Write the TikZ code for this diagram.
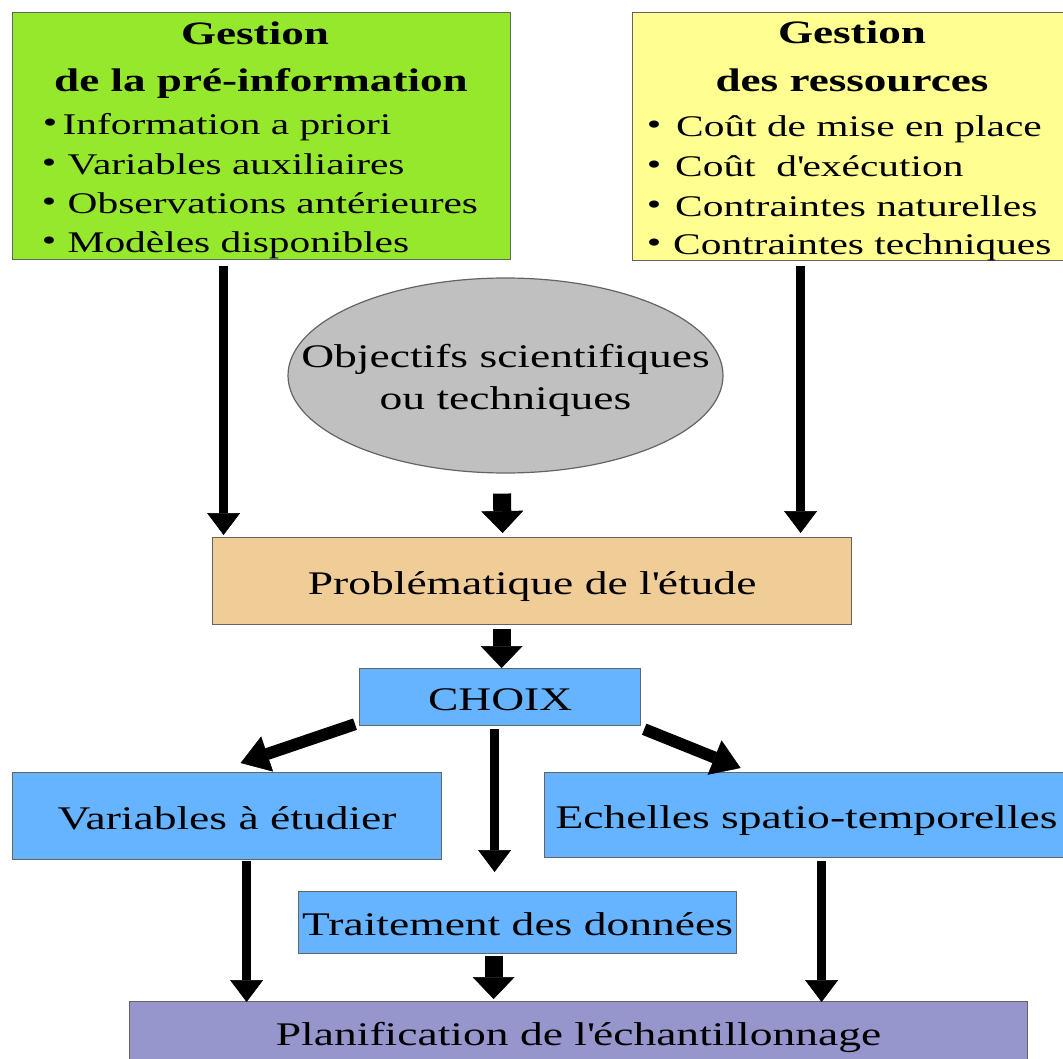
\documentclass[tikz,border=0pt]{standalone}
\usepackage{fontspec}
\setmainfont{Liberation Serif}[FakeStretch=1.38]
\usetikzlibrary{arrows.meta,shapes.geometric}
\definecolor{cGreen}{RGB}{150,232,45}
\definecolor{cYellow}{RGB}{255,255,145}
\definecolor{cGray}{RGB}{192,192,192}
\definecolor{cTan}{RGB}{240,204,150}
\definecolor{cBlue}{RGB}{102,180,255}
\definecolor{cPurple}{RGB}{150,150,205}
\definecolor{cBorder}{RGB}{100,100,100}
\newcommand{\mainfs}{\fontsize{33}{42}\selectfont}
\newcommand{\itemfs}{\fontsize{30}{40}\selectfont}
\newcommand{\titlefs}{\fontsize{32.7}{40}\selectfont\bfseries}
\begin{document}
\begin{tikzpicture}[x=1pt,y=-1pt,
  box/.style={draw=cBorder, line width=1.2pt, rectangle, inner sep=0pt, anchor=north west,
              text height=26pt, text depth=0pt, font=\mainfs},
  titletxt/.style={inner sep=0pt, anchor=base, font=\titlefs},
  itemtxt/.style={inner sep=0pt, anchor=base west, font=\itemfs},
  bul/.style={inner sep=0pt, anchor=base, font=\itemfs},
  thinarr/.style={line width=9pt, -{Triangle[width=33pt,length=22pt,line width=0.5pt]}},
  bigarr/.style={line width=18pt, -{Triangle[width=42pt,length=22pt,line width=0.5pt]}},
  diagarr/.style={line width=12pt, -{Triangle[width=37pt,length=28pt,line width=0.5pt]}}]
\useasboundingbox (0,0) rectangle (1063,1059);
\fill[white] (0,0) rectangle (1063,1059);
\clip (0,0) rectangle (1063,1059);

% top boxes
\node[box, fill=cGreen, minimum width=498pt, minimum height=247pt] (green) at (12,12) {};
\node[box, fill=cYellow, minimum width=434pt, minimum height=248pt] (yellow) at (632,12) {};

\node[titletxt] (gt1) at (255,45) {Gestion};
\node[titletxt] (gt2) at (261,92) {de la pré-information};
\node[bul] (gb1) at (50,133) {\textbullet};
\node[itemtxt] (gi1) at (62.5,135) {Information a priori};
\node[bul] (gb2) at (49,173) {\textbullet};
\node[itemtxt] (gi2) at (67.5,175) {Variables auxiliaires};
\node[bul] (gb3) at (49,212) {\textbullet};
\node[itemtxt] (gi3) at (67.5,214) {Observations antérieures};
\node[bul] (gb4) at (49,251) {\textbullet};
\node[itemtxt] (gi4) at (67.5,253) {Modèles disponibles};

\node[titletxt] (yt1) at (852,44) {Gestion};
\node[titletxt] (yt2) at (852,92) {des ressources};
\node[bul] (yb1) at (654,135) {\textbullet};
\node[itemtxt] (yi1) at (676,137) {Coût de mise en place};
\node[bul] (yb2) at (654,175) {\textbullet};
\node[itemtxt] (yi2) at (675,177) {Coût\ \ d\textquotesingle exécution};
\node[bul] (yb3) at (654,215) {\textbullet};
\node[itemtxt] (yi3) at (675,217) {Contraintes naturelles};
\node[bul] (yb4) at (654,253) {\textbullet};
\node[itemtxt] (yi4) at (673,255) {Contraintes techniques};

% ellipse
\node[ellipse, draw=cBorder, line width=1.2pt, fill=cGray, minimum width=435pt, minimum height=195pt,
      inner sep=0pt] (obj) at (505.5,375.5) {};
\node[inner sep=0pt, align=center, font=\mainfs] (objtxt) at (obj.center)
      {\rule{0pt}{33pt}Objectifs scientifiques\\ou techniques};

% other boxes
\node[box, fill=cTan, minimum width=639pt, minimum height=87pt] (prob) at (212,537) {Problématique de l\textquotesingle étude};
\node[box, fill=cBlue, minimum width=281pt, minimum height=57pt] (choix) at (359,668) {CHOIX};
\node[box, fill=cBlue, minimum width=429pt, minimum height=87pt] (var) at (12,772) {Variables à étudier};
\node[box, fill=cBlue, minimum width=524pt, minimum height=85pt] (ech) at (544,772) {Echelles spatio-temporelles};
\node[box, fill=cBlue, minimum width=438pt, minimum height=62pt] (trait) at (298,891) {Traitement des données};
\node[box, fill=cPurple, minimum width=898pt, minimum height=61pt] (plan) at (129,1001) {Planification de l\textquotesingle échantillonnage};

% arrows
\draw[thinarr] ([xshift=-38pt,yshift=-6pt]green.south) -- ([xshift=-308.5pt,yshift=2pt]prob.north);
\draw[thinarr] ([xshift=-49pt,yshift=-5pt]yellow.south) -- ([xshift=268.5pt,yshift=4pt]prob.north);
\draw[bigarr] ([xshift=-3.5pt,yshift=-20pt]obj.south) -- ([xshift=-29.5pt,yshift=4pt]prob.north);
\draw[bigarr] ([xshift=-30.5pt,yshift=-4pt]prob.south) -- ([xshift=1.5pt,yshift=0pt]choix.north);
\draw[diagarr] ([xshift=-4pt,yshift=2pt]choix.south west) -- ([xshift=13.5pt,yshift=9pt]var.north);
\draw[diagarr] ([xshift=3pt,yshift=-3pt]choix.south east) -- ([xshift=-66pt,yshift=4pt]ech.north);
\draw[thinarr] ([xshift=-5.5pt,yshift=-3pt]choix.south) -- ([xshift=-23pt,yshift=19pt]trait.north);
\draw[bigarr] ([xshift=-24pt,yshift=-2pt]trait.south) -- ([xshift=-85pt,yshift=2pt]plan.north);
\draw[thinarr] ([xshift=19.5pt,yshift=-1pt]var.south) -- ([xshift=-332pt,yshift=-1pt]plan.north);
\draw[thinarr] ([xshift=15pt,yshift=-3pt]ech.south) -- ([xshift=243pt,yshift=-1pt]plan.north);
\end{tikzpicture}
\end{document}
